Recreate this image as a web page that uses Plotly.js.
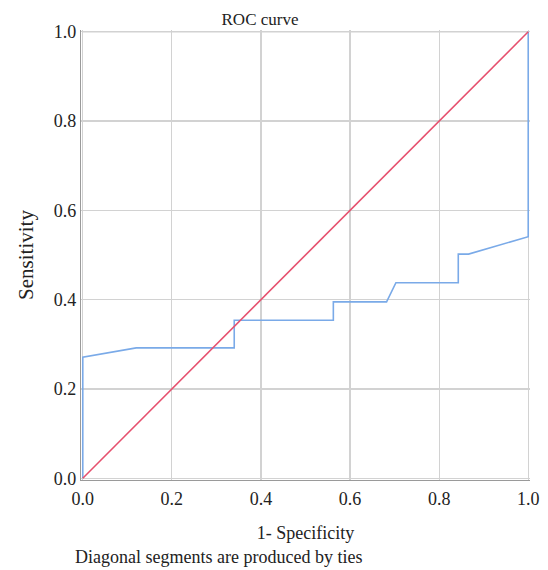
<!DOCTYPE html>
<html><head><meta charset="utf-8">
<script src="https://cdn.plot.ly/plotly-3.0.1.min.js"></script>
<style>html,body{margin:0;padding:0;background:#fff}#chart{width:548px;height:570px}</style>
</head><body><div id="chart"></div>
<script>
const rocX = [0, 0, 0.12, 0.34, 0.34, 0.5625, 0.5625, 0.682, 0.703, 0.843, 0.843, 0.866, 1.0, 1.0];
const rocY = [0, 0.271, 0.292, 0.292, 0.354, 0.354, 0.395, 0.395, 0.438, 0.438, 0.502, 0.502, 0.541, 1.0];
const refX = [0, 1];
const refY = [0, 1];
const tickVals = [0, 0.2, 0.4, 0.6, 0.8, 1.0];
const tickText = ["0.0", "0.2", "0.4", "0.6", "0.8", "1.0"];

const font = "Liberation Serif, Times New Roman, serif";
const data = [
  {x: rocX, y: rocY, mode: "lines", line: {color: "#7aaae8", width: 1.6}, hoverinfo: "skip"},
  {x: refX, y: refY, mode: "lines", line: {color: "#e6506e", width: 1.6}, hoverinfo: "skip"}
];
const pad = 0.004;
const axis = {
  range: [-pad, 1 + pad], tickvals: tickVals, ticktext: tickText,
  showgrid: true, gridcolor: "#d2d2d2", gridwidth: 1.2,
  zeroline: false, showline: true, linecolor: "#9a9a9a", linewidth: 1.2,
  layer: "below traces",
  ticks: "", tickfont: {family: font, size: 18, color: "#222"}, fixedrange: true
};
const layout = {
  width: 548, height: 570,
  margin: {l: 81, r: 18, t: 30, b: 90},
  paper_bgcolor: "#fff", plot_bgcolor: "#fff",
  showlegend: false,
  font: {family: font, color: "#222"},
  title: {text: "ROC curve", font: {family: font, size: 17, color: "#222"}, x: 260/548, xanchor: "center", y: 1 - 19/570, yanchor: "middle"},
  xaxis: Object.assign({}, axis, {title: {text: "1- Specificity", font: {family: font, size: 18, color: "#222"}, standoff: 18}, ticklabelstandoff: 2}),
  yaxis: Object.assign({}, axis, {title: {text: "Sensitivity", font: {family: font, size: 21, color: "#222"}, standoff: 14}}),
  shapes: [
    {type: "line", layer: "below", xref: "x", yref: "y", x0: 0, x1: 1, y0: 1, y1: 1, line: {color: "#d2d2d2", width: 1.2}}
  ],
  annotations: [
    {text: "Diagonal segments are produced by ties", xref: "paper", yref: "paper", x: -8/449, xanchor: "left", y: -77/450, yanchor: "middle", showarrow: false, font: {family: font, size: 18, color: "#222"}}
  ]
};
Plotly.newPlot("chart", data, layout, {displayModeBar: false, staticPlot: true});
</script></body></html>
